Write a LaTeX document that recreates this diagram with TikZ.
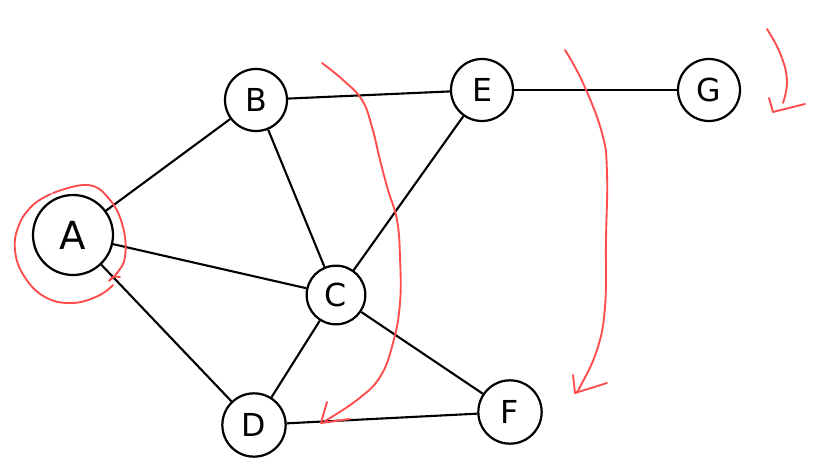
\documentclass[tikz,border=0pt]{standalone}
\usepackage{fontspec}
\setsansfont{DejaVu Sans}
\begin{document}
\begin{tikzpicture}[x=0.03cm,y=-0.03cm,
  vtx/.style={circle,draw=black,line width=1.9pt,minimum size=1.86cm,inner sep=0pt,font=\sffamily\fontsize{27}{27}\selectfont},
  edge/.style={line width=1.8pt,black},
  redink/.style={draw=red!70!white,line width=1.6pt,line cap=round,line join=round}]
\useasboundingbox (0,0) rectangle (826,476);
\fill[white] (0,0) rectangle (826,476);
\node[vtx,minimum size=2.4cm,font=\sffamily\fontsize{33}{33}\selectfont] (A) at (73,235) {A};
\node[vtx] (B) at (256,100) {B};
\node[vtx] (E) at (482,90) {E};
\node[vtx] (G) at (709,90) {G};
\node[vtx,minimum size=1.76cm] (C) at (336,295) {C};
\node[vtx,minimum size=1.9cm] (D) at (254,425) {D};
\node[vtx,minimum size=1.9cm] (F) at (510,412) {F};
\draw[edge] (A) -- (B);
\draw[edge] (A) -- (C);
\draw[edge] (A) -- (D);
\draw[edge] (B) -- (E);
\draw[edge] (B) -- (C);
\draw[edge] (E) -- (C);
\draw[edge] (E) -- (G);
\draw[edge] (C) -- (D);
\draw[edge] (C) -- (F);
\draw[edge] (D) -- (F);
% red loop around A
\draw[redink] plot[smooth,tension=0.7] coordinates {(53,193) (88,185) (110,200) (123,227) (125,257) (117,273) (110,280)};
\draw[redink] plot[smooth,tension=0.7] coordinates {(51,194) (33,205) (19,225) (15,250) (24,276) (45,297) (72,303) (98,296) (113,285)};
\draw[redink] plot[smooth] coordinates {(109,281) (113,277) (120,277)};
% arrow 1
\draw[redink] plot[smooth,tension=0.7] coordinates {(322,63) (343,80) (362,100) (372,127) (380,160) (388,190) (397,220) (400,257) (400,303) (393,343) (380,377) (357,400) (325,421)};
\coordinate (t1) at (321,423);
\draw[redink] (327,402) -- (t1) -- (350,419);
% arrow 2
\draw[redink] plot[smooth,tension=0.7] coordinates {(565,50) (583,83) (602,133) (607,173) (606,240) (605,307) (597,350) (580,387) (576,392)};
\coordinate (t2) at (575,393);
\draw[redink] (573,375) -- (t2) -- (607,383);
% arrow 3
\draw[redink] plot[smooth,tension=0.7] coordinates {(767,29) (780,53) (787,80) (783,103)};
\coordinate (t3) at (773,112);
\draw[redink] (769,98) -- (t3) -- (805,104);
\end{tikzpicture}
\end{document}
